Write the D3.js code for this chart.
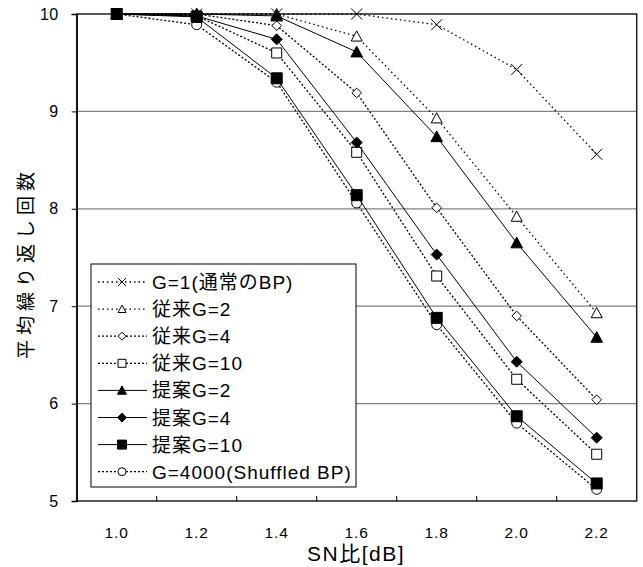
<!DOCTYPE html>
<html><head><meta charset="utf-8">
<script src="https://cdn.jsdelivr.net/npm/d3@7"></script>
<style>
body{margin:0;background:#fff;}
text{font-family:"Liberation Sans","Noto Sans CJK JP",sans-serif;fill:#000;}
</style></head>
<body><svg id="c" width="643" height="567"></svg>
<script>
const snr = ["1.0","1.2","1.4","1.6","1.8","2.0","2.2"];
const yTicks = [5,6,7,8,9,10];
const seriesNames = ["G=1(通常のBP)","従来G=2","従来G=4","従来G=10","提案G=2","提案G=4","提案G=10","G=4000(Shuffled BP)"];
const g1      = [10,10,10,10,9.89,9.43,8.56];
const conv2   = [10,10,10,9.77,8.93,7.92,6.93];
const conv4   = [10,10,9.88,9.19,8.01,6.90,6.04];
const conv10  = [10,9.98,9.60,8.58,7.31,6.25,5.48];
const prop2   = [10,10,9.98,9.61,8.74,7.65,6.68];
const prop4   = [10,9.98,9.74,8.68,7.53,6.43,5.65];
const prop10  = [10,9.97,9.34,8.14,6.88,5.87,5.18];
const shuffled= [10,9.89,9.30,8.06,6.81,5.80,5.12];

const styles = [
  {vals:g1, mk:"x", fill:"none", dash:"1.5,3", r:5.5, solid:false},
  {vals:conv2, mk:"tri", fill:"#fff", dash:"1.5,3", r:5.5, solid:false},
  {vals:conv4, mk:"dia", fill:"#fff", dash:"2,2", r:4.8, solid:false},
  {vals:conv10, mk:"sq", fill:"#fff", dash:"2,2", r:5, solid:false},
  {vals:prop2, mk:"tri", fill:"#000", dash:null, r:5.8, solid:true},
  {vals:prop4, mk:"dia", fill:"#000", dash:null, r:5.5, solid:true},
  {vals:prop10, mk:"sq", fill:"#000", dash:null, r:5.5, solid:true},
  {vals:shuffled, mk:"circ", fill:"#fff", dash:"2,2", r:5, solid:false}
];
styles.forEach((s,i)=>s.name=seriesNames[i]);

function markerPath(t, r){
  if(t==="tri") return `M0,${-r}L${r},${r*0.85}L${-r},${r*0.85}Z`;
  if(t==="dia") return `M0,${-r}L${r},0L0,${r}L${-r},0Z`;
  if(t==="sq") return `M${-r},${-r}H${r}V${r}H${-r}Z`;
  if(t==="circ") return `M${r},0A${r},${r} 0 1,1 ${-r},0A${r},${r} 0 1,1 ${r},0Z`;
  if(t==="x") return `M${-r},${-r}L${r},${r}M${-r},${r}L${r},${-r}`;
}

const svg = d3.select("#c");
const L=76.7, R=636.7, T=14, B=501;
const x = d3.scaleBand().domain(snr).range([L,R]).padding(0);
const xc = d => x(d)+x.bandwidth()/2;
const y = d3.scaleLinear().domain([5,10]).range([B,T]);

// gridlines
svg.append("g").selectAll("line").data(yTicks.filter(v=>v>5&&v<10)).join("line")
  .attr("x1",L).attr("x2",R).attr("y1",d=>y(d)).attr("y2",d=>y(d))
  .attr("stroke","#808080").attr("stroke-width",1.2);

// frame
svg.append("rect").attr("x",L).attr("y",T).attr("width",R-L).attr("height",B-T)
  .attr("fill","none").attr("stroke","#222").attr("stroke-width",1.5);

// y axis
const ya = svg.append("g").attr("transform",`translate(${L},0)`)
  .call(d3.axisLeft(y).tickValues(yTicks).tickSize(5).tickPadding(13).tickFormat(d3.format("d")));
ya.select(".domain").attr("stroke","#000").attr("stroke-width",1.3);
ya.selectAll("text").style("font-size","16px").style("letter-spacing","0.5px").attr("fill","#000");

// x axis: ticks between categories, inside
const bounds = snr.slice(1).map(d=>x(d));
svg.append("g").selectAll("line").data(bounds).join("line")
  .attr("x1",d=>d).attr("x2",d=>d).attr("y1",B).attr("y2",B-5)
  .attr("stroke","#000").attr("stroke-width",1);
svg.append("g").selectAll("text").data(snr).join("text")
  .attr("x",d=>xc(d)).attr("y",538).attr("text-anchor","middle")
  .style("font-size","15.5px").style("letter-spacing","1px").text(d=>d);

// titles
svg.append("text").attr("x",356).attr("y",561).attr("text-anchor","middle")
  .style("font-size","21px").style("letter-spacing","1.5px").text("SN比[dB]");
svg.append("text").attr("transform","translate(33,263) rotate(-90)").attr("text-anchor","middle")
  .style("font-size","19px").style("letter-spacing","5px").text("平均繰り返し回数");

// series (draw shuffled first so others sit on top)
const order = [7,0,1,2,3,4,5,6];
const line = d3.line().x((d,i)=>xc(snr[i])).y(d=>y(d));
order.forEach(i=>{
  const s = styles[i];
  const g = svg.append("g");
  g.append("path").attr("d",line(s.vals)).attr("fill","none")
    .attr("stroke","#000").attr("stroke-width",s.solid?1:1.3)
    .attr("stroke-dasharray",s.dash);
  g.selectAll("path.m").data(s.vals).join("path").attr("class","m")
    .attr("transform",(d,j)=>`translate(${xc(snr[j])},${y(d)})`)
    .attr("d",markerPath(s.mk,s.r))
    .attr("fill",s.fill).attr("stroke","#000").attr("stroke-width",1);
});

// legend
const lg = svg.append("g");
lg.append("rect").attr("x",91).attr("y",264).attr("width",265).attr("height",223)
  .attr("fill","#fff").attr("stroke","#000").attr("stroke-width",1);
styles.forEach((s,i)=>{
  const cy = 282 + i*27.1;
  lg.append("line").attr("x1",98).attr("x2",147).attr("y1",cy).attr("y2",cy)
    .attr("stroke","#000").attr("stroke-width",s.solid?1:1.3).attr("stroke-dasharray",s.dash);
  lg.append("path").attr("transform",`translate(122,${cy})`)
    .attr("d",markerPath(s.mk, s.solid? 4.5 : 4)).attr("fill",s.fill).attr("stroke","#000").attr("stroke-width",1);
  lg.append("text").attr("x",152).attr("y",cy+7).style("font-size","19px").style("letter-spacing","1px").text(s.name);
});
</script></body></html>
